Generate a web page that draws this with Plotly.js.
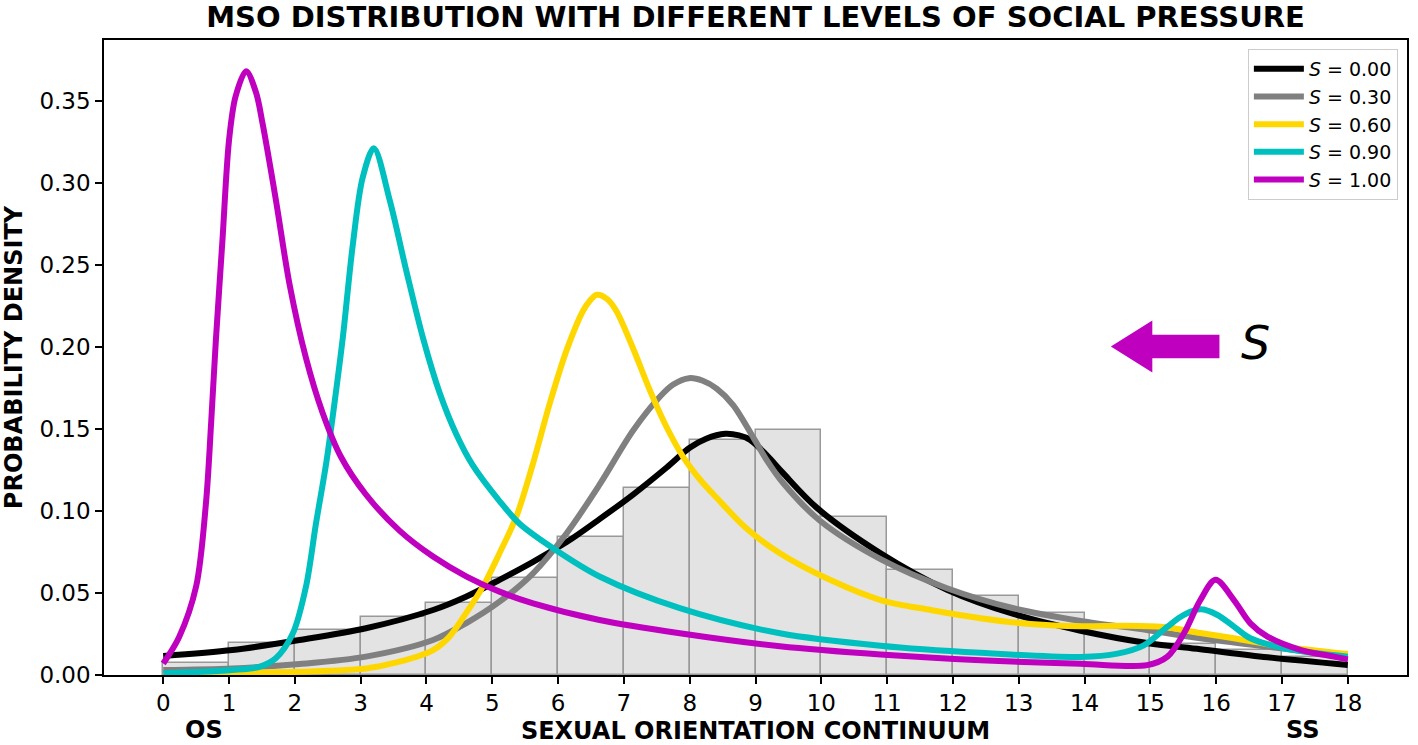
<!DOCTYPE html>
<html>
<head>
<meta charset="utf-8">
<script src="https://cdn.plot.ly/plotly-3.0.1.min.js"></script>
<style>
  html, body { margin: 0; padding: 0; background: #fff; }
  #mso_chart { width: 1418px; height: 745px; }
</style>
</head>
<body>
<div id="mso_chart"></div>
<script>
// histogram of observed orientation scores (bins of width 1 from 0 to 18)
var bin_centers = [0.5, 1.5, 2.5, 3.5, 4.5, 5.5, 6.5, 7.5, 8.5, 9.5, 10.5, 11.5, 12.5, 13.5, 14.5, 15.5, 16.5, 17.5];
var bin_density = [0.0075, 0.0193, 0.0274, 0.0356, 0.0441, 0.059, 0.084, 0.1137, 0.1433, 0.1496, 0.0962, 0.064, 0.0482, 0.0378, 0.028, 0.019, 0.015, 0.011];

// S = 0.00
var s000_x = [0, 1.05, 2.07, 3.08, 4.1, 4.6, 5.11, 5.62, 6.13, 6.63, 7.14, 7.65, 8.0, 8.25, 8.54, 8.75, 8.92, 9.17, 9.42, 9.93, 10.9, 11.91, 12.92, 13.94, 14.95, 15.76, 16.78, 18];
var s000_y = [0.0116, 0.0152, 0.0213, 0.0285, 0.0396, 0.0477, 0.058, 0.069, 0.081, 0.095, 0.11, 0.1265, 0.1385, 0.144, 0.147, 0.146, 0.1433, 0.134, 0.123, 0.102, 0.0742, 0.052, 0.0372, 0.027, 0.0195, 0.0157, 0.0108, 0.0061];

// S = 0.30
var s030_x = [0, 1.05, 2.07, 3.08, 4.1, 4.6, 5.11, 5.62, 6.13, 6.63, 7.14, 7.55, 7.75, 7.99, 8.2, 8.41, 8.66, 8.97, 9.17, 9.42, 9.98, 10.9, 11.91, 12.92, 13.94, 14.95, 15.76, 16.78, 18];
var s030_y = [0.003, 0.004, 0.0067, 0.0112, 0.0213, 0.0315, 0.0447, 0.062, 0.0864, 0.116, 0.149, 0.1697, 0.177, 0.1809, 0.1793, 0.1745, 0.1645, 0.1445, 0.131, 0.117, 0.094, 0.0706, 0.0529, 0.0407, 0.033, 0.0274, 0.0224, 0.0173, 0.0112];

// S = 0.60
var s060_x = [0, 1.2, 2.07, 3.08, 3.59, 4.1, 4.35, 4.6, 4.86, 5.11, 5.37, 5.62, 5.87, 6.13, 6.38, 6.48, 6.59, 6.75, 6.89, 7.14, 7.4, 7.65, 7.9, 8.16, 8.41, 8.86, 9.37, 10.13, 10.9, 11.66, 12.42, 13.18, 13.94, 14.6, 15.2, 15.76, 16.27, 17.03, 18];
var s060_y = [0.0005, 0.0014, 0.002, 0.004, 0.0081, 0.0152, 0.0234, 0.0376, 0.054, 0.0742, 0.097, 0.129, 0.165, 0.198, 0.222, 0.228, 0.2317, 0.229, 0.2215, 0.199, 0.173, 0.151, 0.133, 0.119, 0.108, 0.0894, 0.0742, 0.058, 0.0457, 0.0396, 0.0346, 0.0311, 0.0297, 0.03, 0.0292, 0.0256, 0.0224, 0.0173, 0.0128];

// S = 0.90
var s090_x = [0, 1.05, 1.46, 1.71, 1.97, 2.17, 2.32, 2.48, 2.6, 2.73, 2.88, 3.03, 3.2, 3.44, 3.69, 3.95, 4.2, 4.45, 4.7, 5.11, 5.42, 5.97, 6.63, 7.85, 9.37, 10.9, 12.42, 13.94, 14.5, 14.9, 15.26, 15.51, 15.76, 16.02, 16.27, 16.52, 17.03, 17.54, 18];
var s090_y = [0.001, 0.003, 0.005, 0.0102, 0.0254, 0.054, 0.092, 0.13, 0.165, 0.206, 0.262, 0.303, 0.321, 0.2896, 0.247, 0.205, 0.172, 0.147, 0.128, 0.106, 0.092, 0.076, 0.06, 0.0407, 0.0254, 0.0178, 0.0135, 0.011, 0.013, 0.018, 0.0295, 0.0366, 0.04, 0.0366, 0.0295, 0.0224, 0.0163, 0.0132, 0.0112];

// S = 1.00
var s100_x = [0, 0.24, 0.5, 0.65, 0.73, 0.8, 0.9, 1.0, 1.1, 1.26, 1.41, 1.51, 1.71, 1.92, 2.17, 2.42, 2.7, 3.08, 3.59, 4.1, 4.61, 5.11, 5.62, 6.63, 7.85, 9.37, 10.9, 12.42, 13.94, 14.95, 15.26, 15.51, 15.76, 15.99, 16.27, 16.52, 16.78, 17.29, 17.79, 18];
var s100_y = [0.007, 0.023, 0.054, 0.105, 0.155, 0.204, 0.265, 0.326, 0.3527, 0.368, 0.355, 0.336, 0.29, 0.238, 0.193, 0.16, 0.133, 0.11, 0.088, 0.0722, 0.06, 0.0508, 0.0437, 0.0335, 0.0254, 0.0175, 0.0125, 0.009, 0.0068, 0.006, 0.0112, 0.0254, 0.0457, 0.058, 0.0457, 0.0315, 0.0234, 0.0152, 0.0112, 0.0095];

var series_names = ['<i>S</i> = 0.00', '<i>S</i> = 0.30', '<i>S</i> = 0.60', '<i>S</i> = 0.90', '<i>S</i> = 1.00'];
var series_x = [s000_x, s030_x, s060_x, s090_x, s100_x];
var series_y = [s000_y, s030_y, s060_y, s090_y, s100_y];
var series_colors = ['#000000', '#808080', '#ffd700', '#00bfbf', '#bf00bf'];

var x_ticks = [0, 1, 2, 3, 4, 5, 6, 7, 8, 9, 10, 11, 12, 13, 14, 15, 16, 17, 18];
var y_ticks = [0, 0.05, 0.10, 0.15, 0.20, 0.25, 0.30, 0.35];

var data = [{
    x: bin_centers,
    y: bin_density,
    type: 'bar',
    width: 1,
    marker: {
        color: '#e3e3e3',
        line: {color: '#999999', width: 1.5}
    },
    showlegend: false,
    hoverinfo: 'skip'
}];
for (var i = 0; i < series_names.length; i++) {
    data.push({
        x: series_x[i],
        y: series_y[i],
        name: series_names[i],
        type: 'scatter',
        mode: 'lines',
        line: {color: series_colors[i], width: 6, shape: 'spline', smoothing: 0.9}
    });
}

// fat arrow pointing left (direction of increasing social pressure)
var arrow = {tail: 16.05, head_base: 15.03, tip: 14.4, y: 0.2002, body: 0.0071, head: 0.0158};
var arrow_path = 'M ' + arrow.tail + ' ' + (arrow.y + arrow.body) +
    ' L ' + arrow.head_base + ' ' + (arrow.y + arrow.body) +
    ' L ' + arrow.head_base + ' ' + (arrow.y + arrow.head) +
    ' L ' + arrow.tip + ' ' + arrow.y +
    ' L ' + arrow.head_base + ' ' + (arrow.y - arrow.head) +
    ' L ' + arrow.head_base + ' ' + (arrow.y - arrow.body) +
    ' L ' + arrow.tail + ' ' + (arrow.y - arrow.body) + ' Z';

var layout = {
    width: 1418,
    height: 745,
    margin: {l: 104, r: 11, t: 40, b: 70, pad: 0},
    paper_bgcolor: 'white',
    plot_bgcolor: 'white',
    font: {family: 'DejaVu Sans', color: 'black'},
    bargap: 0,
    title: {
        text: '<b>MSO DISTRIBUTION WITH DIFFERENT LEVELS OF SOCIAL PRESSURE</b>',
        font: {size: 29},
        x: 0.5,
        xref: 'paper',
        xanchor: 'center',
        y: 0.978,
        yref: 'container',
        yanchor: 'middle'
    },
    xaxis: {
        range: [-0.9, 18.9],
        tickvals: x_ticks,
        ticks: 'outside',
        ticklen: 7,
        tickwidth: 1.5,
        tickcolor: 'black',
        tickfont: {size: 23},
        showline: true,
        linecolor: 'black',
        linewidth: 1.5,
        mirror: true,
        showgrid: false,
        zeroline: false,
        title: {
            text: '<b>SEXUAL ORIENTATION CONTINUUM</b>',
            font: {size: 24},
            standoff: 7
        }
    },
    yaxis: {
        range: [0, 0.387],
        tickvals: y_ticks,
        tickformat: '.2f',
        ticks: 'outside',
        ticklen: 7,
        tickwidth: 1.5,
        tickcolor: 'black',
        tickfont: {size: 23},
        showline: true,
        linecolor: 'black',
        linewidth: 1.5,
        mirror: true,
        showgrid: false,
        zeroline: false,
        title: {
            text: '<b>PROBABILITY DENSITY</b>',
            font: {size: 24},
            standoff: 10
        }
    },
    legend: {
        x: 0.993,
        xanchor: 'right',
        y: 0.986,
        yanchor: 'top',
        bgcolor: 'white',
        bordercolor: '#cccccc',
        borderwidth: 1,
        itemwidth: 50,
        font: {size: 19}
    },
    shapes: [{
        type: 'path',
        xref: 'x',
        yref: 'y',
        path: arrow_path,
        fillcolor: '#bf00bf',
        line: {width: 0}
    }],
    annotations: [
        {x: 16.6, y: 0.2024, xref: 'x', yref: 'y', text: '<i>S</i>', showarrow: false,
         font: {size: 46}, xanchor: 'center', yanchor: 'middle'},
        {x: 0.62, y: -0.0866, xref: 'x', yref: 'paper', text: '<b>OS</b>', showarrow: false,
         font: {size: 24}, xanchor: 'center', yanchor: 'middle'},
        {x: 17.32, y: -0.0866, xref: 'x', yref: 'paper', text: '<b>SS</b>', showarrow: false,
         font: {size: 24}, xanchor: 'center', yanchor: 'middle'}
    ]
};

Plotly.newPlot('mso_chart', data, layout, {displayModeBar: false, showTips: false});
</script>
</body>
</html>
